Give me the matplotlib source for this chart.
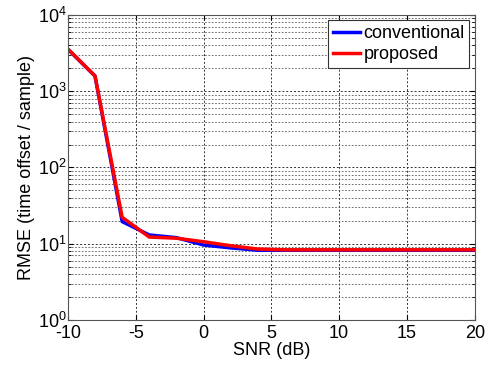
import numpy as np
import matplotlib
matplotlib.use("Agg")
import matplotlib.pyplot as plt
from matplotlib.ticker import LogLocator, NullFormatter

plt.rcParams['font.family'] = ['Liberation Sans', 'DejaVu Sans']
plt.rcParams['axes.unicode_minus'] = False
plt.rcParams['mathtext.fontset'] = 'custom'
plt.rcParams['mathtext.rm'] = 'Liberation Sans'

snr = [-10, -8, -6, -4, -2, 0, 2, 4, 6, 8, 10, 12, 14, 16, 18, 20]
rmse_conv = [3550, 1580, 19.5, 13.0, 12.0, 9.6, 8.8, 8.2, 8.2, 8.2, 8.2, 8.2, 8.2, 8.2, 8.2, 8.2]
rmse_prop = [3580, 1590, 22.2, 12.2, 11.8, 10.6, 9.4, 8.5, 8.3, 8.3, 8.3, 8.3, 8.3, 8.3, 8.3, 8.3]

fig = plt.figure(figsize=(4.92, 3.66), dpi=100)
ax = fig.add_axes([0.138, 0.126, 0.827, 0.833])

ax.plot(snr, rmse_conv, color='#0000ff', lw=2.5, label='conventional')
ax.plot(snr, rmse_prop, color='#ff0000', lw=2.5, label='proposed')

ax.set_yscale('log')
ax.set_xlim(-10, 20)
ax.set_ylim(1, 1e4)
ax.set_xticks([-10, -5, 0, 5, 10, 15, 20])
ax.yaxis.set_major_locator(LogLocator(base=10, numticks=10))
ax.yaxis.set_minor_locator(LogLocator(base=10, subs=np.arange(2, 10), numticks=10))
ax.yaxis.set_minor_formatter(NullFormatter())

ax.grid(True, which='major', axis='both', ls=(0, (2, 2)), color='#333333', lw=0.7)
ax.grid(True, which='minor', axis='y', ls=(0, (2, 2)), color='#555555', lw=0.6)
ax.tick_params(which='both', direction='in', top=True, right=True, labelsize=13)
ax.tick_params(axis='x', pad=4)
ax.tick_params(axis='y', pad=1)
ax.tick_params(which='minor', length=2.5)
for s in ax.spines.values():
    s.set_color('#555555')

ax.set_xlabel('SNR (dB)', fontsize=13, labelpad=0)
ax.set_ylabel('RMSE (time offset / sample)', fontsize=13, labelpad=2)

leg = ax.legend(loc='upper right', fontsize=13, fancybox=False, framealpha=1,
                edgecolor='#333333', handlelength=1.5, borderaxespad=0.3,
                handletextpad=0.2, labelspacing=0.25, borderpad=0.25)
leg.get_frame().set_linewidth(0.8)

fig.savefig('out.png', dpi=100)
